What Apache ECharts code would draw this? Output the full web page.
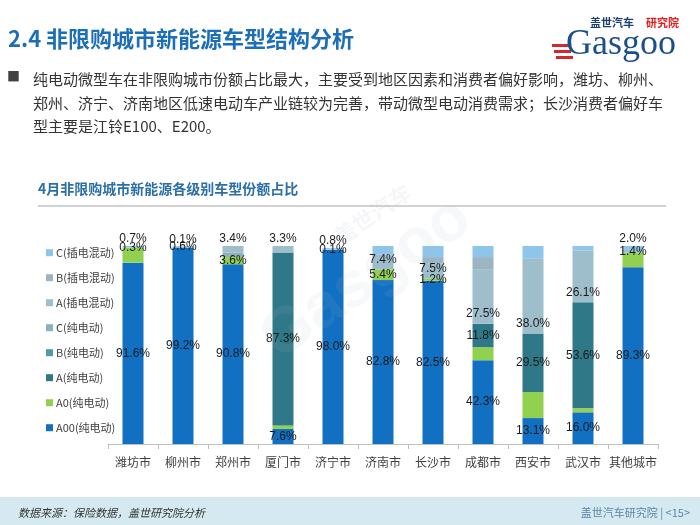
<!DOCTYPE html>
<html><head><meta charset="utf-8">
<script src="https://cdn.jsdelivr.net/npm/echarts@6/dist/echarts.min.js"></script>
<style>html,body{margin:0;padding:0;background:#fff}#c{width:700px;height:525px}</style>
</head><body><div id="c"></div>
<script>
// ---- data ----
var cities = ['潍坊市','柳州市','郑州市','厦门市','济宁市','济南市','长沙市','成都市','西安市','武汉市','其他城市'];
var seriesNames = ['A00(纯电动)','A0(纯电动)','A(纯电动)','B(纯电动)','C(纯电动)','A(插电混动)','B(插电混动)','C(插电混动)'];
var a00  = [91.6, 99.2, 90.8, 7.6, 98.0, 82.8, 82.5, 42.3, 13.1, 16.0, 89.3];
var a0   = [7.4, null, 3.6, 1.8, null, 5.4, 1.2, 6.6, 13.2, 2.0, 7.3];
var aEv  = [null, null, null, 87.3, null, null, null, 11.8, 29.5, 53.6, null];
var bEv  = [null, null, null, null, null, null, null, null, null, null, null];
var cEv  = [null, null, 2.2, null, null, null, null, null, null, null, null];
var aPh  = [0.3, 0.6, 3.4, 3.3, 0.1, 7.4, 7.5, 27.5, 38.0, 26.1, 1.4];
var bPh  = [null, null, null, null, null, null, 3.2, 6.2, null, null, null];
var cPh  = [0.7, 0.1, null, null, 0.8, 4.4, 5.6, 5.6, 6.2, 2.3, 2.0];
// which values carry a data label in the reference (1 = shown)
var shownA0  = [0,0,1,0,0,1,1,0,0,0,0];
var shownCEv = [0,0,0,0,0,0,0,0,0,0,0];
var shownBPh = [0,0,0,0,0,0,0,0,0,0,0];
var shownCPh = [1,1,0,0,1,0,0,0,0,0,1];

var colors = ['#1270C2','#92D050','#2F7888','#4E9AA6','#8DB2BC','#9EBECB','#9BB5C2','#8EC5EA'];

var chart = echarts.init(document.getElementById('c'), null, {renderer:'canvas'});
var lblBase = {show:true, color:'#1a1a1a', fontSize:12, fontFamily:'Arial, "Liberation Sans", sans-serif',
  formatter:function(p){return p.value==null?'':p.value.toFixed(1)+'%';}};

function mk(vals, shown, posFn){
  return vals.map(function(v,i){
    var lab = Object.assign({}, lblBase, {show: v!=null && (shown?shown[i]===1:true)});
    if (posFn) { var pp = posFn(i); if (pp) Object.assign(lab, pp); }
    return {value:v, label:lab};
  });
}
var allVals = [a00,a0,aEv,bEv,cEv,aPh,bPh,cPh];
var shownArr = [null, shownA0, null, null, shownCEv, null, shownBPh, shownCPh];
function isTop(si, i){ for (var k=si+1;k<allVals.length;k++){ if(allVals[k][i]!=null) return false;} return true; }
var posFns = [
  null, null, null, null, null,
  function(i){ if (isTop(5,i)) return {position:'top', distance:1};
               if (aPh[i] > 6) return {position:'insideBottom', distance:4}; return {position:'inside'}; },
  null,
  function(i){ if (isTop(7,i)) return {position:'top', distance:1}; return null; }
];

var series = seriesNames.map(function(n, si){
  return {name:n, type:'bar', stack:'s', barWidth:21, itemStyle:{color:colors[si]},
          data: mk(allVals[si], shownArr[si], posFns[si]), animation:false};
});

var option = {
  animation:false,
  color: colors,
  textStyle:{fontFamily:'"Microsoft YaHei","Noto Sans CJK SC",sans-serif'},
  grid:{left:108, right:42, top:246, bottom:81},
  legend:{
    orient:'vertical', left:41, top:240, itemGap:9.6, itemWidth:7, itemHeight:7, icon:'rect', itemStyle:{borderWidth:0},
    textStyle:{fontSize:11, color:'#404040', lineHeight:15.4, padding:[0,0,0,-2], fontFamily:'"Noto Sans CJK SC",sans-serif'},
    data: seriesNames.slice().reverse()
  },
  xAxis:{type:'category', data:cities,
    axisLine:{lineStyle:{color:'#BFBFBF'}}, axisTick:{show:true, length:5, lineStyle:{color:'#BFBFBF'}},
    axisLabel:{interval:0, fontSize:12, color:'#404040', margin:12, fontFamily:'"Noto Sans CJK SC",sans-serif'}},
  yAxis:{type:'value', min:0, max:100, show:false, splitLine:{show:false}},
  series: series,
  graphic:[
    {type:'rect', shape:{x:0,y:497,width:700,height:28}, style:{fill:'#D5E9F1'}, z:-1},
    {type:'text', left:8, top:28, style:{text:'2.4 非限购城市新能源车型结构分析', fill:'#1C6FB6', font:'bold 22px "Noto Sans CJK SC", sans-serif'}},
    {type:'text', left:7, top:70, style:{text:'■', fill:'#404040', font:'13px "Noto Sans CJK SC", sans-serif'}},
    {type:'text', left:33, top:68, style:{text:'纯电动微型车在非限购城市份额占比最大，主要受到地区因素和消费者偏好影响，潍坊、柳州、\n郑州、济宁、济南地区低速电动车产业链较为完善，带动微型电动消费需求；长沙消费者偏好车\n型主要是江铃E100、E200。', fill:'#333333', font:'15px "Noto Sans CJK SC", sans-serif', lineHeight:23.5}},
    {type:'text', left:38, top:182, style:{text:'4月非限购城市新能源各级别车型份额占比', fill:'#2A6FA8', font:'bold 14px "Noto Sans CJK SC", sans-serif'}},
    {type:'line', shape:{x1:38,y1:206,x2:666,y2:206}, style:{stroke:'#A6A6A6', lineWidth:1.2}},
    {type:'text', left:18, top:507, style:{text:'数据来源：保险数据，盖世研究院分析', fill:'#333', font:'italic 11px "Noto Sans CJK SC", sans-serif'}},
    {type:'text', right:10, top:507, style:{text:'盖世汽车研究院 | <15>', fill:'#5B86A8', font:'11px "Noto Sans CJK SC", sans-serif'}},
    // logo
    {type:'text', left:590, top:17, style:{text:'盖世汽车', fill:'#1B3F73', font:'bold 11px "Noto Sans CJK SC", sans-serif'}},
    {type:'text', left:646, top:17, style:{text:'研究院', fill:'#E02020', font:'bold 11px "Noto Sans CJK SC", sans-serif'}},
    {type:'rect', shape:{x:552,y:44,width:17,height:3}, style:{fill:'#D7262A'}},
    {type:'rect', shape:{x:554,y:50,width:17,height:3}, style:{fill:'#D7262A'}},
    {type:'rect', shape:{x:556,y:56,width:17,height:3}, style:{fill:'#D7262A'}},
    {type:'text', left:566, top:27, style:{text:'Gasgoo', fill:'#1B4F8A', font:'36px "Liberation Serif", serif'}},
    // faint watermark
    {type:'text', x:250, y:320, rotation:0.6, style:{text:'Gasgoo', fill:'rgba(170,185,200,0.10)', font:'bold 64px "Liberation Sans", sans-serif'}, z:100},
    {type:'text', x:330, y:230, rotation:0.6, style:{text:'盖世汽车', fill:'rgba(170,185,200,0.12)', font:'bold 22px "Noto Sans CJK SC", sans-serif'}, z:100}
  ]
};
chart.setOption(option);
</script></body></html>
